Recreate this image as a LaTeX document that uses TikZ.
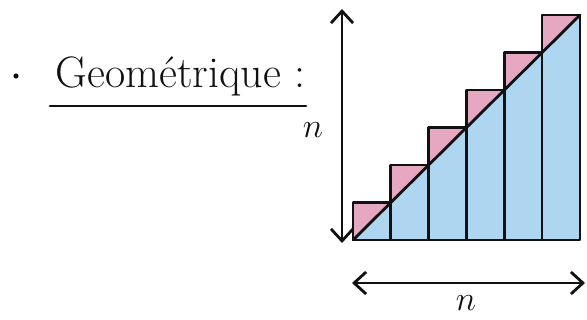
\documentclass[tikz,border=0pt]{standalone}
\usepackage{tikz}
\usetikzlibrary{arrows.meta}
\definecolor{FillBlue}{HTML}{AED6F1}
\definecolor{FillPink}{HTML}{E6A7C0}
\definecolor{InkDark}{HTML}{111111}
\tikzset{
  ink/.style={line width=1.4pt, draw=InkDark, line cap=round, line join=round},
  barbox/.style={ink},
  sizearrow/.style={ink, {Straight Barb[length=6pt,width=11pt]}-{Straight Barb[length=6pt,width=11pt]}},
  hlabel/.style={font=\fontsize{22}{26}\selectfont, text=InkDark, inner sep=0pt},
  nlabel/.style={font=\fontsize{17}{20}\selectfont, text=InkDark, inner sep=1pt},
  bulletdot/.style={circle, fill=InkDark, minimum size=2.6pt, inner sep=0pt},
}
\begin{document}
\begin{tikzpicture}[x=0.5pt, y=-0.5pt]
\useasboundingbox (0,0) rectangle (587,320);
% fills below and above the diagonal
\fill[FillBlue] (353,240) -- (580,15) -- (580,240) -- cycle;
\fill[FillPink] (353.0,240.0) -- (353.0,202.5) -- (390.8,202.5) -- cycle;
\fill[FillPink] (390.8,202.5) -- (390.8,165.0) -- (428.6,165.0) -- cycle;
\fill[FillPink] (428.6,165.0) -- (428.6,127.5) -- (466.4,127.5) -- cycle;
\fill[FillPink] (466.4,127.5) -- (466.4,90.0) -- (504.2,90.0) -- cycle;
\fill[FillPink] (504.2,90.0) -- (504.2,52.5) -- (542.0,52.5) -- cycle;
\fill[FillPink] (542.0,52.5) -- (542.0,15.0) -- (580.0,15.0) -- cycle;
% bars
\draw[barbox] (353.0,240) rectangle (390.8,202.5);
\draw[barbox] (390.8,240) rectangle (428.6,165.0);
\draw[barbox] (428.6,240) rectangle (466.4,127.5);
\draw[barbox] (466.4,240) rectangle (504.2,90.0);
\draw[barbox] (504.2,240) rectangle (542.0,52.5);
\draw[barbox] (542.0,240) rectangle (580.0,15.0);
\coordinate (diagA) at (353,240);
\coordinate (diagB) at (580,15);
\draw[ink] (diagA) -- (diagB);
% size arrows
\coordinate (vbot) at (342,243);
\coordinate (vtop) at (342,9);
\coordinate (hleft) at (352,283);
\coordinate (hright) at (585,283);
\draw[sizearrow] (vbot) -- (vtop);
\draw[sizearrow] (hleft) -- (hright);
\node[nlabel] (nleft) at (313,130) {$n$};
\node[nlabel] (nbottom) at (466,303) {$n$};
% title
\node[bulletdot] (dot) at (16,76) {};
\node[hlabel, anchor=base west] (title) at (55,88) {Geométrique :};
\coordinate (ulA) at (50,106);
\coordinate (ulB) at (306,106);
\draw[ink] (ulA) -- (ulB);
\end{tikzpicture}
\end{document}
